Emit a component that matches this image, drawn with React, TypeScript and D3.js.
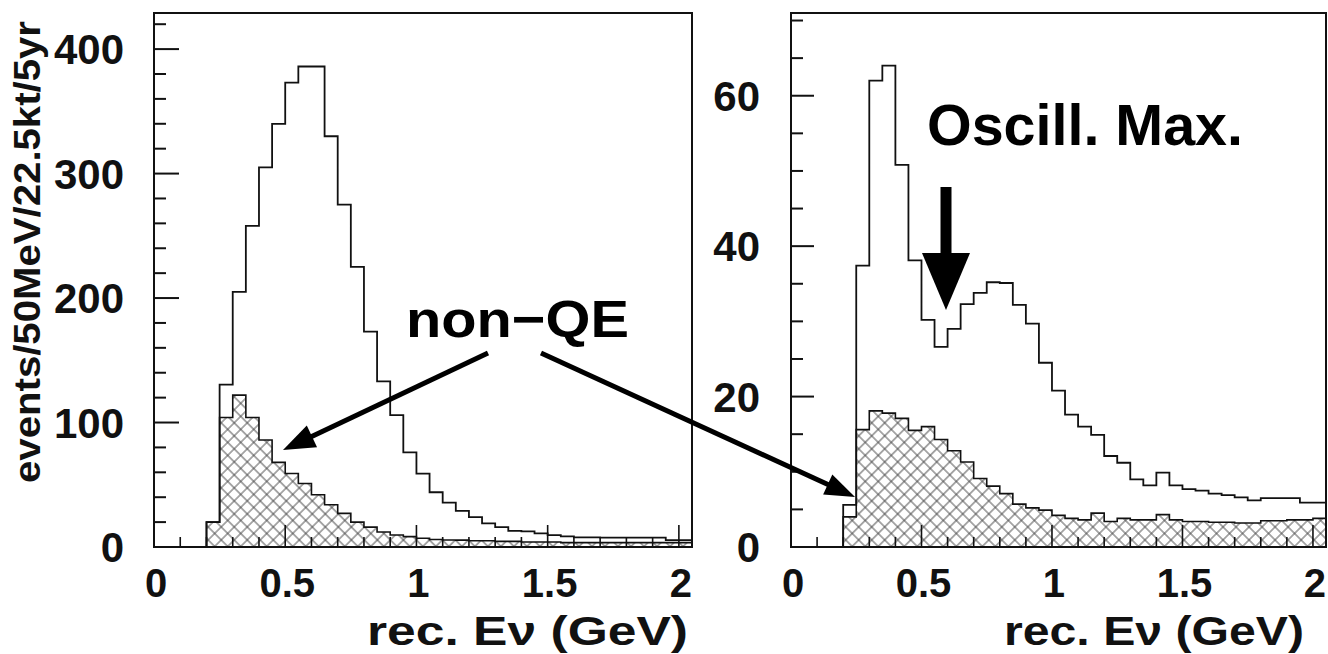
import React from 'react';
import * as d3 from 'd3';

// 50 MeV bins, low edges in GeV
const binLow = [
  0, 0.05, 0.1, 0.15, 0.2, 0.25, 0.3, 0.35, 0.4, 0.45,
  0.5, 0.55, 0.6, 0.65, 0.7, 0.75, 0.8, 0.85, 0.9, 0.95,
  1.0, 1.05, 1.1, 1.15, 1.2, 1.25, 1.3, 1.35, 1.4, 1.45,
  1.5, 1.55, 1.6, 1.65, 1.7, 1.75, 1.8, 1.85, 1.9, 1.95, 2.0,
];
const BIN_WIDTH = 0.05;

// Left panel: no oscillation
const leftTotal = [
  0, 0, 0, 0, 20, 130.5, 205, 258, 305, 340,
  373, 386, 386, 330, 275, 225, 173, 133, 106, 76,
  59, 44, 35.6, 29, 24, 19, 16, 13, 12.5, 11,
  9.6, 8.5, 7.8, 7.8, 7.6, 7.6, 7.6, 7.6, 7.6, 5.6, 5.6,
];
const leftNonQE = [
  0, 0, 0, 0, 20, 104, 122, 104, 86, 68,
  59, 51, 42, 34, 27, 20, 16, 12, 9.6, 8.3,
  7, 6, 5.6, 5.5, 5, 5, 4.5, 4.5, 4, 4,
  4, 3.5, 3.5, 3.5, 3.5, 3.5, 3.5, 3.5, 3.5, 3.5, 3.5,
];

// Right panel: with oscillation
const rightTotal = [
  0, 0, 0, 0, 5.6, 37.4, 62, 64, 50.8, 38.1,
  30.2, 26.6, 29, 32.3, 33.8, 35.2, 35.1, 32.2, 29.7, 24.5,
  20.8, 17.6, 16, 14.9, 12.1, 11.2, 9, 8.2, 9.9, 8.2,
  7.7, 7.5, 7.1, 6.9, 6.6, 6.2, 6.5, 6.5, 6.5, 5.9, 5.9,
];
const rightNonQE = [
  0, 0, 0, 0, 4, 15.6, 18.1, 17.8, 17.1, 15.5,
  16, 14.3, 12.8, 11.3, 9.1, 8.1, 7.1, 5.7, 5.2, 4.9,
  4.2, 3.8, 3.6, 4.5, 3.4, 3.8, 3.6, 3.6, 4.3, 3.6,
  3.4, 3.4, 3.3, 3.3, 3.2, 3.2, 3.5, 3.5, 3.6, 3.6, 3.8,
];

const xMajorTicks = [0, 0.5, 1, 1.5, 2];
const leftYMajor = [0, 100, 200, 300, 400];
const rightYMajor = [0, 20, 40, 60];

const yTitle = 'events/50MeV/22.5kt/5yr';
const xTitle = 'rec. E\u03BD (GeV)';

const FONT = "'Liberation Sans', Arial, Helvetica, sans-serif";
const INK = '#111';

function stepPath(values: number[], x: d3.ScaleLinear<number, number>, y: d3.ScaleLinear<number, number>) {
  const idx = values.map((v, i) => (v > 0 ? i : -1)).filter((i) => i >= 0);
  const first = idx[0];
  const last = idx[idx.length - 1];
  const p = d3.path();
  p.moveTo(x(binLow[first]), y(0));
  for (let k = first; k <= last; k++) {
    p.lineTo(x(binLow[k]), y(values[k]));
    p.lineTo(x(binLow[k] + BIN_WIDTH), y(values[k]));
  }
  p.lineTo(x(binLow[last] + BIN_WIDTH), y(0));
  p.closePath();
  return p.toString();
}

type PanelProps = {
  x0: number;
  x1: number;
  yMax: number;
  total: number[];
  nonQE: number[];
  yMajor: number[];
  yMinorStep: number;
  yMajorLen: number;
  yLabelX: number;
  titleRight: number;
  titleLen: number;
  titleBaseline: number;
};

function Panel(props: PanelProps) {
  const top = 13;
  const bottom = 547;
  const x = d3.scaleLinear().domain([0, 2.05]).range([props.x0, props.x1]);
  const y = d3.scaleLinear().domain([0, props.yMax]).range([bottom, top]);
  const yMinor = d3.range(0, props.yMax, props.yMinorStep);
  const xMinor = x.ticks(20);
  const fmt = d3.format('~g');
  return (
    <g>
      <path d={stepPath(props.nonQE, x, y)} fill="url(#hatch)" stroke="none" />
      <path d={stepPath(props.total, x, y)} fill="none" stroke={INK} strokeWidth={1.8} />
      <path d={stepPath(props.nonQE, x, y)} fill="none" stroke={INK} strokeWidth={1.6} />
      <rect x={props.x0} y={top} width={props.x1 - props.x0} height={bottom - top} fill="none" stroke={INK} strokeWidth={2} />
      {yMinor.map((v) => {
        const major = props.yMajor.includes(v);
        return (
          <line key={'ym' + v} x1={props.x0} x2={props.x0 + (major ? props.yMajorLen : 12)} y1={y(v)} y2={y(v)} stroke={INK} strokeWidth={2} />
        );
      })}
      {xMinor.map((v) => {
        const major = xMajorTicks.some((m) => Math.abs(m - v) < 1e-6);
        return (
          <line key={'xm' + v} x1={x(v)} x2={x(v)} y1={bottom} y2={bottom - (major ? 22 : 10)} stroke={INK} strokeWidth={1.6} />
        );
      })}
      {props.yMajor.map((v) => (
        <text key={'yl' + v} x={props.yLabelX} y={y(v)} dy="0.36em" textAnchor="end" fontFamily={FONT} fontWeight="bold" fontSize={42} fill={INK}>
          {fmt(v)}
        </text>
      ))}
      {xMajorTicks.map((v) => (
        <text key={'xl' + v} x={x(v) + 2} y={597} textAnchor="middle" fontFamily={FONT} fontWeight="bold" fontSize={40} fill={INK}>
          {fmt(v)}
        </text>
      ))}
      <text x={props.titleRight - props.titleLen} y={props.titleBaseline} textLength={props.titleLen} lengthAdjust="spacingAndGlyphs" fontFamily={FONT} fontWeight="bold" fontSize={41} fill={INK}>
        {xTitle}
      </text>
    </g>
  );
}

function Arrow({ x1, y1, x2, y2, headLen, headHalf, width }: { x1: number; y1: number; x2: number; y2: number; headLen: number; headHalf: number; width: number }) {
  const dx = x2 - x1;
  const dy = y2 - y1;
  const L = Math.hypot(dx, dy);
  const ux = dx / L;
  const uy = dy / L;
  const bx = x2 - ux * headLen;
  const by = y2 - uy * headLen;
  const px = -uy;
  const py = ux;
  const tri = `M${x2},${y2}L${bx + px * headHalf},${by + py * headHalf}L${bx - px * headHalf},${by - py * headHalf}Z`;
  return (
    <g>
      <line x1={x1} y1={y1} x2={bx + ux * 2} y2={by + uy * 2} stroke="#000" strokeWidth={width} />
      <path d={tri} fill="#000" />
    </g>
  );
}

export default function App() {
  return (
    <svg width={1328} height={654} style={{ position: 'absolute', left: 0, top: 0, background: '#fff' }}>
      <defs>
        <pattern id="hatch" patternUnits="userSpaceOnUse" width={9.2} height={9.2} patternTransform="rotate(45)">
          <path d="M0,4.6H9.2M4.6,0V9.2" stroke="#444" strokeWidth={0.9} />
        </pattern>
      </defs>
      <rect x={0} y={0} width={1328} height={654} fill="#fff" />
      <Panel x0={154} x1={692} yMax={429} total={leftTotal} nonQE={leftNonQE} yMajor={leftYMajor} yMinorStep={20} yMajorLen={25} yLabelX={124} titleRight={688} titleLen={321} titleBaseline={645} />
      <Panel x0={791} x1={1326} yMax={71} total={rightTotal} nonQE={rightNonQE} yMajor={rightYMajor} yMinorStep={5} yMajorLen={23} yLabelX={760} titleRight={1304} titleLen={300} titleBaseline={645} />
      <text transform="translate(40,252) rotate(-90)" textAnchor="middle" textLength={462} lengthAdjust="spacingAndGlyphs" fontFamily={FONT} fontWeight="bold" fontSize={36} fill={INK}>
        {yTitle}
      </text>
      <text x={406} y={337} textLength={223} lengthAdjust="spacingAndGlyphs" fontFamily={FONT} fontWeight="bold" fontSize={52} fill="#000">
        non{'\u2212'}QE
      </text>
      <text x={927} y={145} textLength={316} lengthAdjust="spacingAndGlyphs" fontFamily={FONT} fontWeight="bold" fontSize={58} fill="#000">
        Oscill. Max.
      </text>
      <Arrow x1={488} y1={353} x2={283} y2={450} headLen={32} headHalf={12} width={5} />
      <Arrow x1={541} y1={353} x2={855} y2={497} headLen={30} headHalf={11} width={5} />
      <Arrow x1={946} y1={187} x2={946} y2={310} headLen={57} headHalf={24} width={11} />
    </svg>
  );
}
